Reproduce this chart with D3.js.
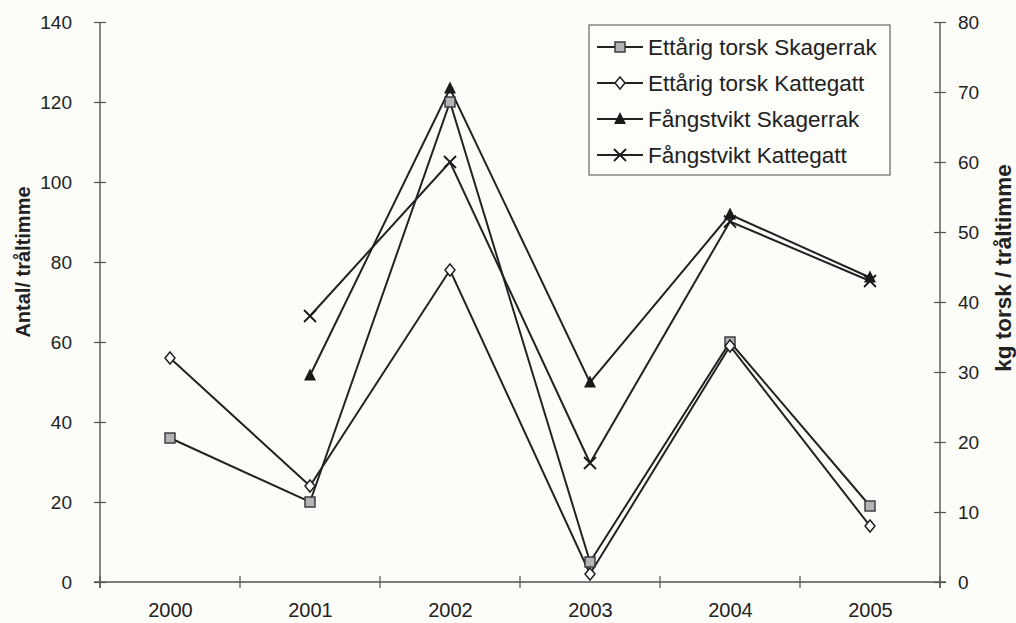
<!DOCTYPE html>
<html>
<head>
<meta charset="utf-8">
<script src="https://cdn.jsdelivr.net/npm/d3@7"></script>
<style>
  html, body { margin: 0; padding: 0; background: #fcfcf9; }
  svg { display: block; }
  text { font-family: "Liberation Sans", Arial, sans-serif; fill: #222; }
</style>
</head>
<body>
<svg id="chart" width="1016" height="623"></svg>
<script>
// Years on the category axis
const years = ["2000", "2001", "2002", "2003", "2004", "2005"];

// Number of one-year cod per trawl hour (left axis)
const ettarigSkagerrak = [36, 20, 120, 5, 60, 19];
const ettarigKattegatt = [56, 24, 78, 2, 59, 14];

// Catch weight, kg cod per trawl hour (right axis)
const fangstviktSkagerrak = [null, 29.5, 70.5, 28.5, 52.5, 43.5];
const fangstviktKattegatt = [null, 38, 60, 17, 51.5, 43];

// Axis ticks
const leftTicks = [0, 20, 40, 60, 80, 100, 120, 140];
const rightTicks = [0, 10, 20, 30, 40, 50, 60, 70, 80];

const seriesNames = [
  "Ettårig torsk Skagerrak",
  "Ettårig torsk Kattegatt",
  "Fångstvikt Skagerrak",
  "Fångstvikt Kattegatt"
];

const svg = d3.select("#chart");
const plotLeft = 100, plotRight = 940, plotTop = 22, plotBottom = 582;
const ink = "#222";
const axisInk = "#555";

const xBand = d3.scaleBand().domain(years).range([plotLeft, plotRight]).paddingInner(0).paddingOuter(0);
const xPoint = d3.scalePoint().domain(years).range([plotLeft, plotRight]).padding(0.5);
const yL = d3.scaleLinear().domain([0, 140]).range([plotBottom, plotTop]);
const yR = d3.scaleLinear().domain([0, 80]).range([plotBottom, plotTop]);

// ---- Axes ----
const gLeft = svg.append("g").attr("transform", `translate(${plotLeft},0)`)
  .call(d3.axisLeft(yL).tickValues(leftTicks).tickSize(6).tickPadding(22).tickFormat(d3.format("d")));
gLeft.selectAll(".tick line").attr("x2", 6).attr("x1", -6);
gLeft.select(".domain").attr("d", `M0,${plotTop}V${plotBottom + 6}`);

const gRight = svg.append("g").attr("transform", `translate(${plotRight},0)`)
  .call(d3.axisRight(yR).tickValues(rightTicks).tickSize(6).tickPadding(12).tickFormat(d3.format("d")));
gRight.selectAll(".tick line").attr("x1", -6).attr("x2", 6);
gRight.select(".domain").attr("d", `M0,${plotTop}V${plotBottom + 6}`);

const gBottom = svg.append("g").attr("transform", `translate(0,${plotBottom})`)
  .call(d3.axisBottom(xPoint).tickSize(0).tickPadding(21));
gBottom.select(".domain").attr("d", `M${plotLeft - 6},0H${plotRight + 6}`);
// category boundary ticks crossing the axis
const bounds = years.map(d => xBand(d)).concat([plotRight]);
gBottom.selectAll("line.bound").data(bounds).join("line")
  .attr("class", "bound")
  .attr("x1", d => d).attr("x2", d => d)
  .attr("y1", -6).attr("y2", 6);

[gLeft, gRight, gBottom].forEach(g => {
  g.selectAll(".domain").attr("stroke", axisInk).attr("stroke-width", 1.4).attr("fill", "none");
  g.selectAll("line").attr("stroke", axisInk).attr("stroke-width", 1.2);
  g.selectAll("text").attr("font-size", 19).attr("fill", ink)
    .attr("font-family", "'Liberation Sans', Arial, sans-serif");
});
gBottom.selectAll("text").attr("font-size", 20);

// Axis titles
svg.append("text")
  .attr("transform", `translate(30,262) rotate(-90)`)
  .attr("text-anchor", "middle")
  .attr("font-size", 20).attr("font-weight", "bold")
  .text("Antal/ tråltimme");

svg.append("text")
  .attr("transform", `translate(1011,268) rotate(-90)`)
  .attr("text-anchor", "middle")
  .attr("font-size", 22.5).attr("font-weight", "bold")
  .text("kg torsk / tråltimme");

// ---- Markers ----
function drawMarker(g, type) {
  if (type === "square") {
    g.append("rect").attr("x", -5).attr("y", -5).attr("width", 10).attr("height", 10)
      .attr("fill", "#b4b4b8").attr("stroke", "#333").attr("stroke-width", 1.4);
  } else if (type === "diamond") {
    g.append("path").attr("d", "M0,-6L5,0L0,6L-5,0Z")
      .attr("fill", "#fff").attr("stroke", "#222").attr("stroke-width", 1.5);
  } else if (type === "triangle") {
    g.append("path").attr("d", "M0,-7L6,5L-6,5Z").attr("fill", "#1a1a1a");
  } else if (type === "cross") {
    g.append("path").attr("d", "M-6,-6L6,6M-6,6L6,-6")
      .attr("stroke", "#1a1a1a").attr("stroke-width", 1.8).attr("fill", "none");
  }
}

const series = [
  { name: seriesNames[0], values: ettarigSkagerrak, scale: yL, marker: "square" },
  { name: seriesNames[1], values: ettarigKattegatt, scale: yL, marker: "diamond" },
  { name: seriesNames[2], values: fangstviktSkagerrak, scale: yR, marker: "triangle" },
  { name: seriesNames[3], values: fangstviktKattegatt, scale: yR, marker: "cross" }
];

const plot = svg.append("g");
series.forEach(s => {
  const pts = years.map((yr, i) => ({ yr, v: s.values[i] }));
  const line = d3.line().defined(p => p.v != null).x(p => xPoint(p.yr)).y(p => s.scale(p.v));
  plot.append("path").datum(pts).attr("d", line)
    .attr("fill", "none").attr("stroke", ink).attr("stroke-width", 2);
});
series.forEach(s => {
  const pts = years.map((yr, i) => ({ yr, v: s.values[i] })).filter(p => p.v != null);
  pts.forEach(p => {
    const g = plot.append("g").attr("transform", `translate(${xPoint(p.yr)},${s.scale(p.v)})`);
    drawMarker(g, s.marker);
  });
});

// ---- Legend ----
const legend = svg.append("g");
legend.append("rect").attr("x", 589).attr("y", 25).attr("width", 301).attr("height", 150)
  .attr("fill", "#fdfdfa").attr("stroke", "#666").attr("stroke-width", 1.2);
series.forEach((s, i) => {
  const cy = 47 + i * 36;
  legend.append("line").attr("x1", 597).attr("x2", 643).attr("y1", cy).attr("y2", cy)
    .attr("stroke", ink).attr("stroke-width", 2);
  drawMarker(legend.append("g").attr("transform", `translate(620,${cy})`), s.marker);
  legend.append("text").attr("x", 648).attr("y", cy).attr("dy", "0.36em")
    .attr("font-size", 22.5).text(s.name);
});
</script>
</body>
</html>
